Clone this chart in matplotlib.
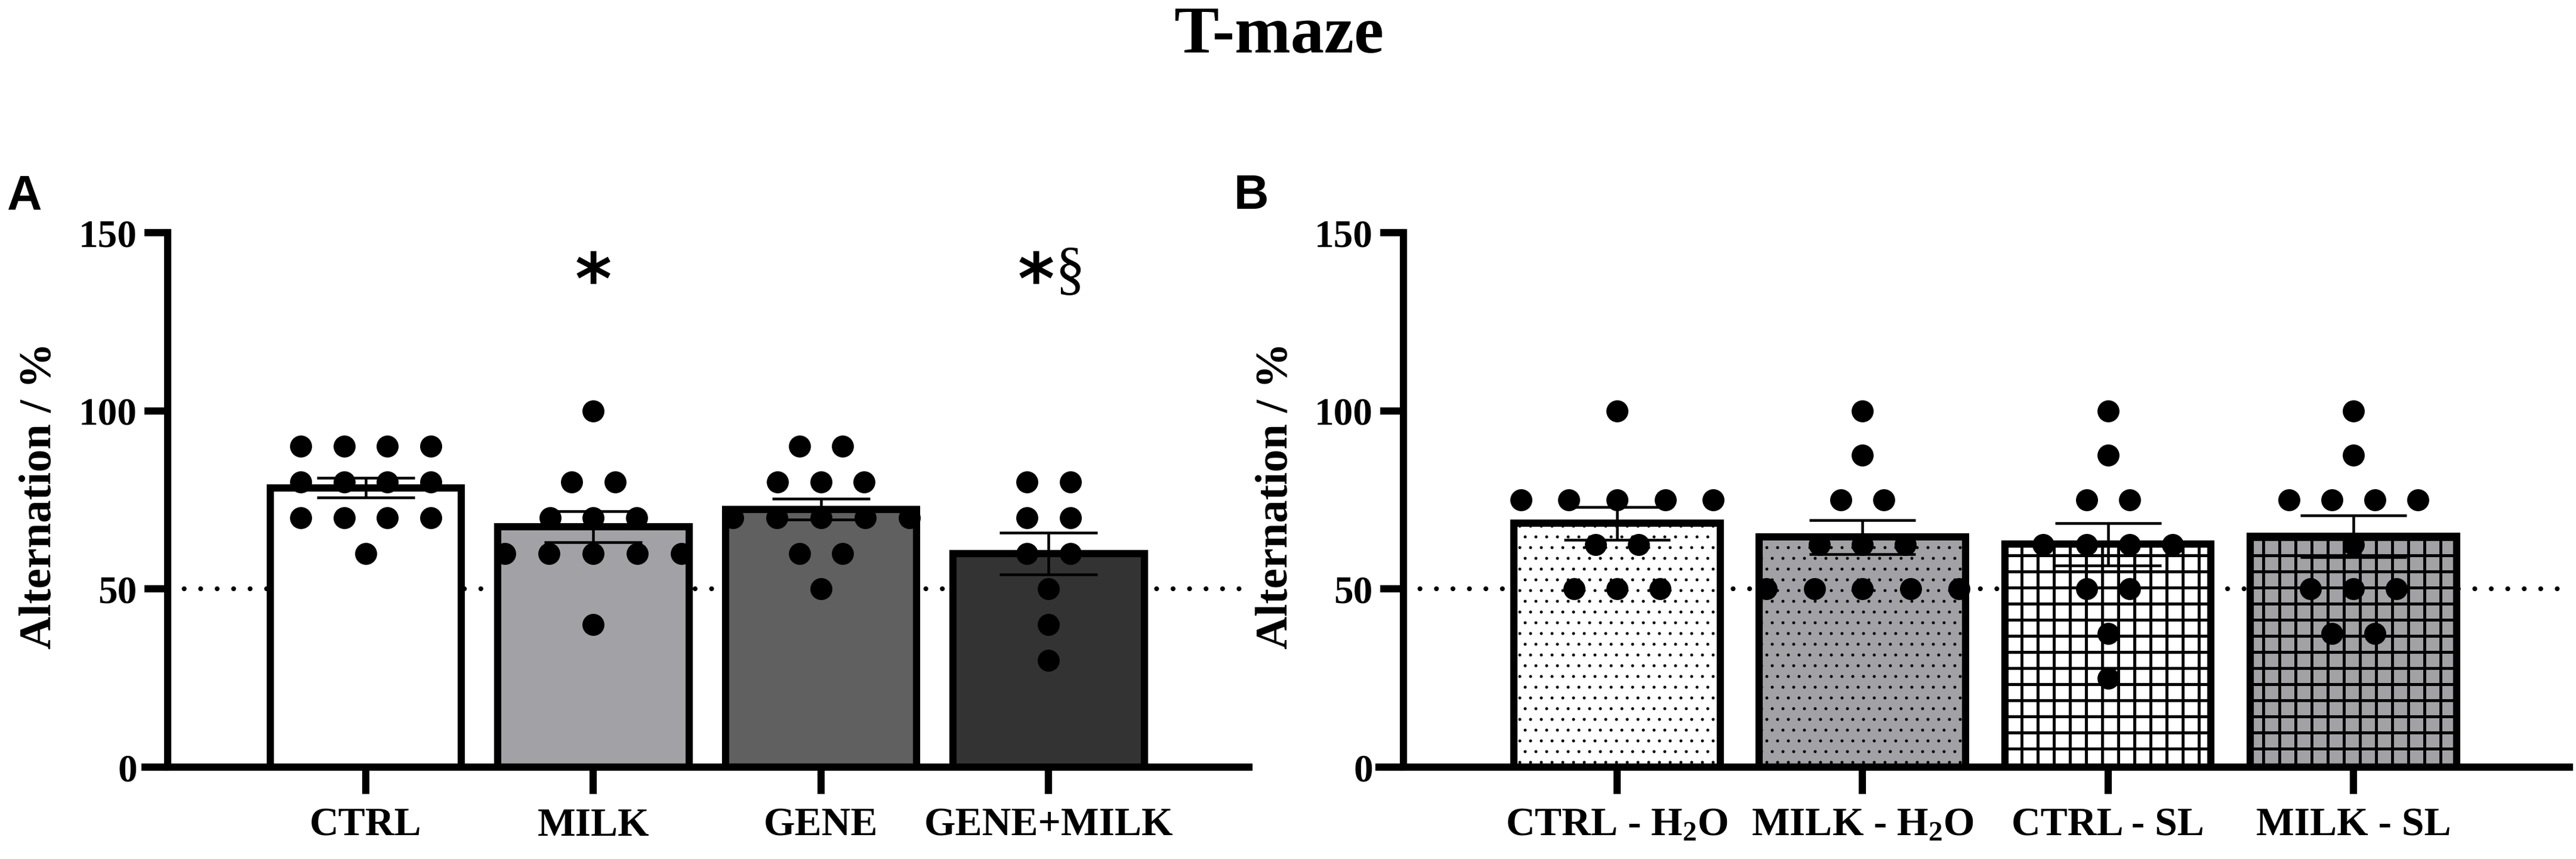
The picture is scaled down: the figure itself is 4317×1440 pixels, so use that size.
import matplotlib
matplotlib.use("Agg")
import matplotlib.pyplot as plt
import numpy as np

# ---- data ---------------------------------------------------------------
groups_a = ["CTRL", "MILK", "GENE", "GENE+MILK"]
means_a = [78.4, 67.5, 72.4, 59.9]
sems_a = [2.75, 4.4, 2.9, 5.9]
points_a = [
    [90, 90, 90, 90, 80, 80, 80, 80, 70, 70, 70, 70, 60],
    [100, 80, 80, 70, 70, 70, 60, 60, 60, 60, 60, 40],
    [90, 90, 80, 80, 80, 70, 70, 70, 70, 70, 60, 60, 50],
    [80, 80, 70, 70, 60, 60, 50, 40, 30],
]
colors_a = ["#ffffff", "#a2a2a6", "#606060", "#333333"]

groups_b = ["CTRL - H$_2$O", "MILK - H$_2$O", "CTRL - SL", "MILK - SL"]
means_b = [68.4, 64.6, 62.6, 64.8]
sems_b = [4.65, 4.75, 5.95, 5.8]
points_b = [
    [100, 75, 75, 75, 75, 75, 62.5, 62.5, 50, 50, 50],
    [100, 87.5, 75, 75, 62.5, 62.5, 62.5, 50, 50, 50, 50, 50],
    [100, 87.5, 75, 75, 62.5, 62.5, 62.5, 62.5, 50, 50, 37.5, 25],
    [100, 87.5, 75, 75, 75, 75, 62.5, 50, 50, 50, 37.5, 37.5],
]
colors_b = ["#ffffff", "#a2a2a6", "#ffffff", "#a2a2a6"]
hatches_b = ["...", "...", "++", "++"]
hatch_lw_b = [0.3, 0.3, 1.1, 1.1]

yticks = [0, 50, 100, 150]
chance = 50

DPI = 324
SERIF = "Liberation Serif"

plt.rcParams["mathtext.fontset"] = "custom"
plt.rcParams["mathtext.rm"] = "Liberation Serif:bold"
plt.rcParams["mathtext.it"] = "Liberation Serif:bold:italic"
plt.rcParams["mathtext.bf"] = "Liberation Serif:bold"


def swarm_x(center, values, spacing, wide):
    xs, ys = [], []
    for v in sorted(set(values), reverse=True):
        n = values.count(v)
        step = wide if n >= 5 else spacing
        for i in range(n):
            xs.append(center + (i - (n - 1) / 2) * step)
            ys.append(v)
    return xs, ys


def draw_panel(ax, groups, means, sems, points, colors, hatches, hatch_lws,
               spacing, wide, capsize):
    x = np.arange(len(groups))
    ax.set_xlim(-0.87, 3.88)
    ax.set_ylim(0, 150)
    ax.axhline(chance, color="black", lw=1.8, linestyle=(0, (0.01, 3.4)),
               dash_capstyle="round", zorder=0.5)
    for i in range(len(groups)):
        hatch = hatches[i] if hatches else None
        hlw = hatch_lws[i] if hatch_lws else 1.0
        with plt.rc_context({"hatch.linewidth": hlw}):
            bars = ax.bar(x[i], means[i], width=0.84, color=colors[i],
                          edgecolor="black", linewidth=2.7, hatch=hatch,
                          zorder=2)
        for b in bars:
            if hasattr(b, "set_hatch_linewidth"):
                b.set_hatch_linewidth(hlw)
    ax.errorbar(x, means, yerr=sems, fmt="none", ecolor="black",
                elinewidth=1.0, capsize=capsize, capthick=1.0, zorder=3)
    for i, vals in enumerate(points):
        xs, ys = swarm_x(x[i], vals, spacing, wide)
        ax.plot(xs, ys, "o", color="black", ms=8.2, mew=0, zorder=4,
                clip_on=False)

    for side in ("top", "right"):
        ax.spines[side].set_visible(False)
    for side in ("left", "bottom"):
        ax.spines[side].set_linewidth(2.7)
    ax.spines["left"].set_bounds(0, 150)
    ax.spines["bottom"].set_bounds(-0.87 - 0.1, 3.88)

    ax.set_yticks(yticks)
    ax.set_yticklabels([str(t) for t in yticks], fontfamily=SERIF,
                       fontweight="bold", fontsize=14.5)
    ax.set_xticks(x)
    ax.set_xticklabels(groups, fontfamily=SERIF, fontweight="bold",
                       fontsize=15)
    ax.tick_params(axis="y", length=8.7, width=2.7, pad=2.7)
    ax.tick_params(axis="x", length=10, width=2.7, pad=5)
    ax.set_ylabel("Alternation / %", fontfamily=SERIF, fontweight="bold",
                  fontsize=17)


fig = plt.figure(figsize=(4317 / DPI, 1440 / DPI), dpi=DPI)
ax_a = fig.add_axes([0.06509, 0.10694, 0.41974, 0.62222])
ax_b = fig.add_axes([0.54482, 0.10694, 0.45263, 0.62222])

draw_panel(ax_a, groups_a, means_a, sems_a, points_a, colors_a, None, None,
           spacing=0.19, wide=0.194, capsize=18.2)
draw_panel(ax_b, groups_b, means_b, sems_b, points_b, colors_b, hatches_b,
           hatch_lw_b, spacing=0.1755, wide=0.196, capsize=19.8)

ax_a.yaxis.set_label_coords(0.0235, 0.4229, transform=fig.transFigure)
ax_b.yaxis.set_label_coords(0.5033, 0.4229, transform=fig.transFigure)

# significance marks
star_kw = dict(fontfamily="DejaVu Sans", fontweight="bold", fontsize=26,
               ha="center", va="baseline", textcoords="offset points")
ax_a.annotate("*", xy=(1, 130), xytext=(0, 0), xycoords="data", **star_kw)
ax_a.annotate("*", xy=(3, 130), xytext=(-4.7, 0), xycoords="data", **star_kw)
ax_a.annotate("\u00a7", xy=(3, 134.5), xytext=(2.5, 0), xycoords="data",
              textcoords="offset points", fontfamily=SERIF, fontsize=22,
              ha="left", va="baseline")

fig.text(0.4964, 0.9389, "T-maze", fontfamily=SERIF, fontweight="bold",
         fontsize=25, ha="center", va="baseline")
fig.text(12 / 4317, 0.7569, "A", fontfamily="Liberation Sans",
         fontweight="bold", fontsize=18, ha="left", va="baseline")
fig.text(2068 / 4317, 0.7569, "B", fontfamily="Liberation Sans",
         fontweight="bold", fontsize=18, ha="left", va="baseline")

fig.savefig("out.png", dpi=DPI)
plt.close(fig)
